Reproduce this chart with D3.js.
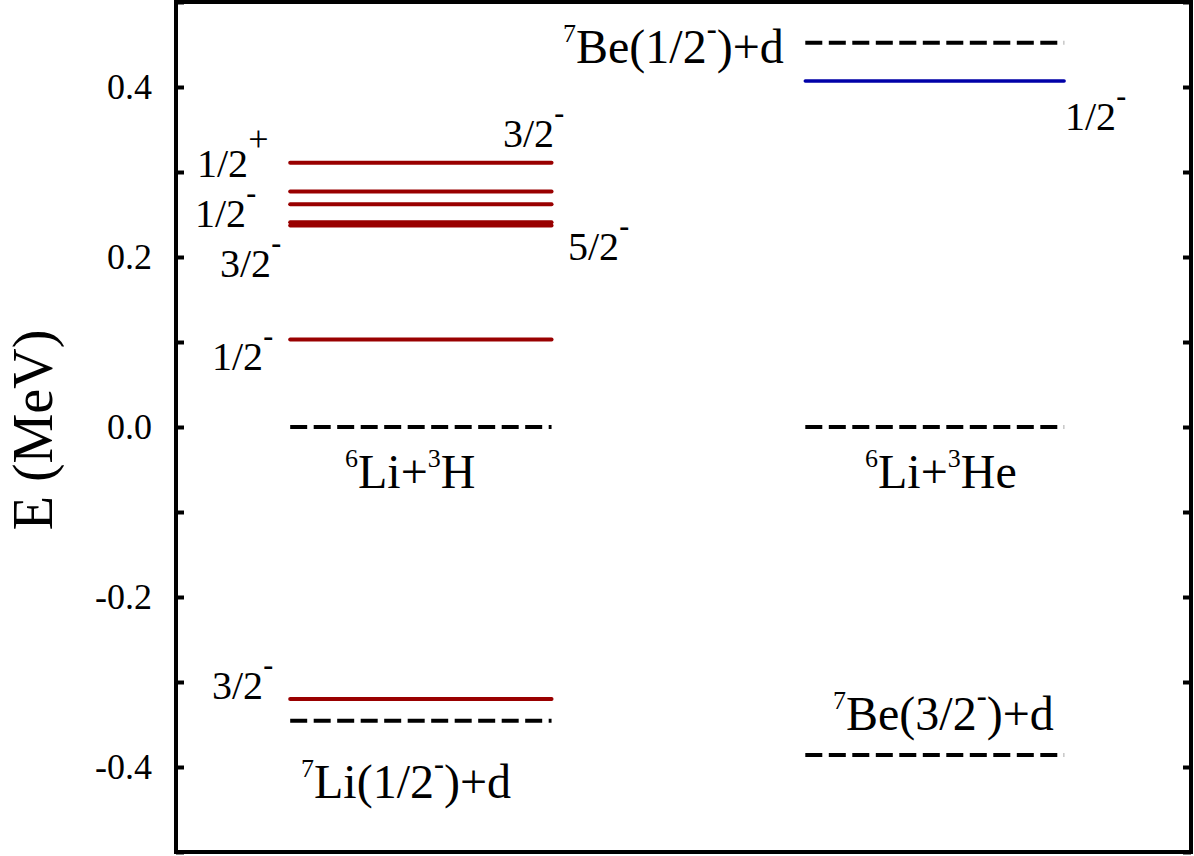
<!DOCTYPE html>
<html>
<head>
<meta charset="utf-8">
<script src="https://cdn.jsdelivr.net/npm/d3@7/dist/d3.min.js"></script>
<style>
  html, body { margin: 0; padding: 0; background: #fff; }
  svg { display: block; }
</style>
</head>
<body>
<svg id="chart" width="1194" height="856"></svg>
<script>
// ---------------- data ----------------
// 9Be levels relative to 6Li+3H threshold (left column), MeV
const beLevels = [0.311, 0.277, 0.262, 0.241, 0.237, 0.103, -0.320];
// thresholds in left column: 6Li+3H, 7Li(1/2-)+d
const leftThresholds = [0.0, -0.3455];
// 9B level relative to 6Li+3He threshold (right column)
const bLevels = [0.407];
// thresholds in right column: 6Li+3He, 7Be(1/2-)+d, 7Be(3/2-)+d
const rightThresholds = [0.0, 0.452, -0.386];
// column extents (abstract x units)
const leftColumn = [0.45, 1.48];
const rightColumn = [2.48, 3.50];
// axis ticks
const majorTicks = [-0.4, -0.2, 0.0, 0.2, 0.4];
const minorTicks = [-0.5, -0.3, -0.1, 0.1, 0.3, 0.5];
const yTitle = "E (MeV)";

// ---------------- layout ----------------
const FONT = "'Liberation Serif', 'Times New Roman', serif";
const svg = d3.select("#chart");
const L = 176, R = 1191, T = 2, B = 852;
const x = d3.scaleLinear().domain([0, 4]).range([L, R]);
const y = d3.scaleLinear().domain([-0.5, 0.5]).range([B, T]);

const red = "#990000", blue = "#0000a8";

// levels
function drawLevels(vals, col, color, dashed, width) {
  svg.append("g").selectAll("line").data(vals).join("line")
    .attr("x1", x(col[0])).attr("x2", x(col[1]))
    .attr("y1", d => y(d)).attr("y2", d => y(d))
    .attr("stroke", color).attr("stroke-width", width)
    .attr("stroke-linecap", dashed ? "butt" : "round")
    .attr("stroke-dasharray", dashed ? "17,6.5" : null);
}
drawLevels(beLevels, leftColumn, red, false, 4);
drawLevels(leftThresholds, leftColumn, "#000", true, 4);
drawLevels(bLevels, rightColumn, blue, false, 3.5);
drawLevels(rightThresholds, rightColumn, "#000", true, 4);

// axes
const tickFmt = d => d.toFixed(1);
const gL = svg.append("g").attr("transform", `translate(${L},0)`)
  .call(d3.axisLeft(y).tickValues(majorTicks).tickFormat(tickFmt).tickSizeInner(-8).tickSizeOuter(0).tickPadding(24));
const gLm = svg.append("g").attr("transform", `translate(${L},0)`)
  .call(d3.axisLeft(y).tickValues(minorTicks).tickFormat("").tickSizeInner(-8).tickSizeOuter(0));
const gR = svg.append("g").attr("transform", `translate(${R},0)`)
  .call(d3.axisRight(y).tickValues(majorTicks.concat(minorTicks)).tickFormat("").tickSizeInner(-8).tickSizeOuter(0));
[gL, gLm, gR].forEach(g => {
  g.select(".domain").remove();
  g.selectAll(".tick line").attr("stroke", "#000").attr("stroke-width", 4);
});
gL.selectAll(".tick text").attr("font-size", 36).attr("fill", "#000");

// frame
svg.append("rect").attr("x", L).attr("y", T).attr("width", R - L).attr("height", B - T)
  .attr("fill", "none").attr("stroke", "#000").attr("stroke-width", 4);

// y title
svg.append("text").attr("transform", `translate(52,430) rotate(-90)`)
  .attr("text-anchor", "middle").attr("font-size", 56).text(yTitle);

// labels with superscripts
function label(px, py, parts, size) {
  size = size || 40;
  const t = svg.append("text").attr("x", px).attr("y", py).attr("font-size", size);
  let cur = 0;
  parts.forEach(p => {
    const ts = t.append("tspan");
    let shift = 0, fs = size, fw = null;
    if (p.s === "num") { shift = -21; fs = 26; }
    else if (p.s === "minus") { shift = -24; fs = 30; fw = "bold"; }
    else if (p.s === "plus") { shift = -26; fs = 36; }
    ts.attr("dy", shift - cur).attr("font-size", fs).text(p.t);
    if (fw) ts.attr("font-weight", fw);
    cur = shift;
  });
}
const M = {t: "-", s: "minus"};
// left spins
label(197, 177, [{t: "1/2"}, {t: "+", s: "plus"}]);
label(195, 227, [{t: "1/2"}, M]);
label(220, 277, [{t: "3/2"}, M]);
label(212, 370, [{t: "1/2"}, M]);
label(212, 699, [{t: "3/2"}, M]);
// right-of-left spins
label(503, 147, [{t: "3/2"}, M]);
label(568, 260, [{t: "5/2"}, M]);
// blue level spin
label(1065, 130, [{t: "1/2"}, M]);
// thresholds
const TS = 48;
label(345, 488, [{t: "6", s: "num"}, {t: "Li+"}, {t: "3", s: "num"}, {t: "H"}], TS);
label(301, 798, [{t: "7", s: "num"}, {t: "Li(1/2"}, M, {t: ")+d"}], TS);
label(563, 63, [{t: "7", s: "num"}, {t: "Be(1/2"}, M, {t: ")+d"}], TS);
label(865, 488, [{t: "6", s: "num"}, {t: "Li+"}, {t: "3", s: "num"}, {t: "He"}], TS);
label(833, 730, [{t: "7", s: "num"}, {t: "Be(3/2"}, M, {t: ")+d"}], TS);

svg.selectAll("text").style("font-family", FONT).attr("font-family", null);
svg.selectAll("g").attr("font-family", null);
</script>
</body>
</html>
